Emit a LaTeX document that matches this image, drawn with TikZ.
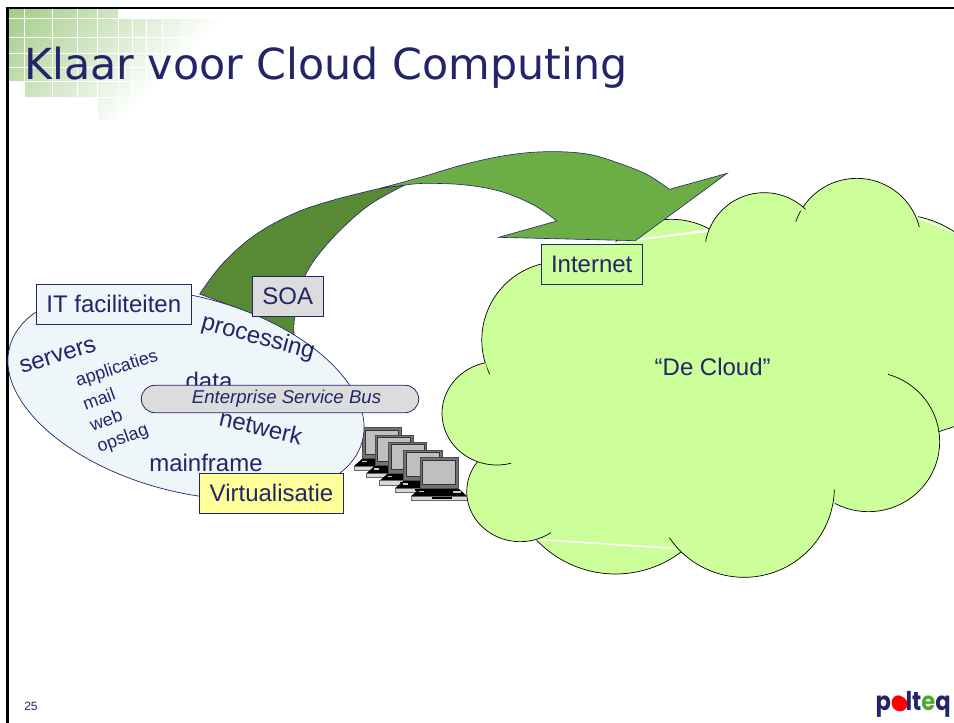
\documentclass[tikz,border=0pt]{standalone}
\usepackage{fontspec}
\usepackage{graphicx}
\setmainfont{Liberation Sans}
\newfontfamily\titlefont{DejaVu Sans}
\newfontfamily\logofont{Poppins}
\usetikzlibrary{shapes.geometric,shapes.misc}
\definecolor{navy}{HTML}{24246B}
\definecolor{tilegreen}{HTML}{A3CD89}
\definecolor{ice}{HTML}{EEF6FA}
\definecolor{cloudgreen}{HTML}{CCFF99}
\definecolor{lightarrow}{HTML}{6DAD46}
\definecolor{darkarrow}{HTML}{588A35}
\definecolor{boxgrey}{HTML}{DCDCDC}
\definecolor{boxyellow}{HTML}{FFFF99}
\pgfdeclareverticalshading{tilefade}{100bp}{color(0bp)=(white); color(52bp)=(white); color(85bp)=(tilegreen); color(100bp)=(tilegreen)}
\newcommand{\fsz}[1]{\fontsize{#1}{#1}\selectfont}
% centre x, centre y, radius x, radius y, start angle, end angle (clockwise on the page)
\newcommand{\cloudlobe}[6]{%
  \fill[cloudgreen] plot[domain=#5:#6,samples=40,smooth] ({#1+#3*cos(\x)},{#2+#4*sin(\x)});%
  \draw[lobe] plot[domain=#5:#6,samples=40,smooth] ({#1+#3*cos(\x)},{#2+#4*sin(\x)});}
\tikzset{
  label box/.style={draw=navy,line width=0.9pt,text=navy,font=\fsz{24},inner sep=0pt,minimum height=39.6pt},
  word/.style={text=navy,inner sep=0pt,font=\fsz{24}},
  small word/.style={text=navy,inner sep=0pt,font=\fsz{18}},
  lobe/.style={draw=black,line width=0.7pt},
  zoomfive/.style={shift={(430,170)},x=0.3342pt,y=-0.33333pt},
  zoomsix/.style={shift={(180,140)},x=0.35714pt,y=-0.33333pt},
  zoomthree/.style={shift={(340,410)},x=0.33333pt,y=-0.33333pt},
  laptop/.pic={
    \fill[black] (-26,115) -- (0,92) -- (115,92) -- (141,115) -- cycle;
    \fill[white!60!gray] (-2,100) rectangle (12,104);
    \fill[white!60!gray] (100,100) rectangle (122,106);
    \draw[fill=white!70!gray,draw=black!60,line width=0.6pt] (-26,115) rectangle (141,128);
    \draw[fill=black!55,draw=black!70,line width=0.5pt] (0,0) rectangle (115,92);
    \draw[fill=black!25,draw=black!80,line width=0.5pt] (8,7) rectangle (107,80);
    \fill[black] (35,118) rectangle (95,123);
  }
}
\begin{document}
\begin{tikzpicture}[x=1pt,y=-1pt]
\useasboundingbox (0,0) rectangle (954,723);
\begin{scope}
\clip (0,0) rectangle (954,723);
\fill[white] (0,0) rectangle (954,723);
% green tile background
\begin{scope}
\clip (8,9) rectangle (118,18) (8,18) rectangle (222,53) (8,53) rectangle (222,81) (25,81) rectangle (222,97) (97,97) rectangle (222,120);
\shade[shading=tilefade,shading angle=45] (8,9) rectangle (248,249);
\foreach \gx in {24.5,52,77,97,118,132,146,162,182,203} \draw[white,line width=0.8pt] (\gx,9) -- (\gx,120);
\foreach \gy in {18,37,53,67,81,97} \draw[white,line width=0.8pt] (8,\gy) -- (230,\gy);
\end{scope}
% slide frame
\draw[black,line width=2.4pt] (7.5,723) -- (7.5,8) -- (954,8);
\node[anchor=base west,inner sep=0pt,text=navy,font={\titlefont\fsz{42.8}}] (title) at (24,79) {Klaar voor Cloud Computing};
% laptops
\begin{scope}[zoomthree]
\pic at (68,53) {laptop};
\pic at (105,75) {laptop};
\pic at (145,97) {laptop};
\pic at (191,120) {laptop};
\pic at (240,143) {laptop};
\end{scope}
% cloud
\begin{scope}[zoomfive]
\filldraw[cloudgreen,line width=1.5pt,line join=round] (150,870) -- (170,585) -- (335,285) -- (555,222) -- (835,188) -- (1125,122) -- (1460,148) -- (1568,192) -- (1568,765) -- (1522,780) -- (1205,1005) -- (760,1132) -- (325,1104) -- cycle;
\cloudlobe{270}{965}{160}{150}{55}{218}
\cloudlobe{555}{887}{325}{325}{51}{136.5}
\cloudlobe{940}{952}{270}{270}{1.3}{146}
\cloudlobe{1312}{815}{213}{210}{-74}{118}
\draw[lobe] (1522,785) -- (1568,770);
\fill[cloudgreen] (1460,140) .. controls (1500,148) and (1540,165) .. (1568,185);
\draw[lobe] (1460,140) .. controls (1500,148) and (1540,165) .. (1568,185);
\cloudlobe{1277}{218}{193}{193}{-161}{-14}
\cloudlobe{1000}{246}{178}{178}{-170}{-46}
\cloudlobe{722}{388}{240}{240}{-134}{-61.5}
\cloudlobe{390}{510}{235}{235}{154}{270}
\cloudlobe{200}{730}{164}{155}{75}{258}
\end{scope}
% arrow
\begin{scope}[zoomsix]
\draw[fill=darkarrow,draw=navy,line width=0.6pt] plot[smooth,tension=0.6] coordinates {(55,462)(120,370)(210,285)(320,220)(430,180)(560,145)} -- (630,135) -- plot[smooth,tension=0.6] coordinates {(630,135)(530,195)(440,280)(370,370)(335,450)(320,540)(320,590)} -- (200,520) -- cycle;
\draw[fill=lightarrow,draw=navy,line width=0.6pt] plot[smooth,tension=0.6] coordinates {(560,145)(680,110)(800,72)(920,45)(1030,35)(1140,42)(1230,70)(1310,105)(1370,148)} -- (1532,100) -- (1275,302) -- (892,292) -- plot[smooth,tension=0.6] coordinates {(1055,243)(990,195)(900,155)(800,135)(690,130)(630,135)} -- cycle;
\end{scope}
% ellipse and words
\node[ellipse,draw=navy,line width=0.7pt,fill=ice,inner sep=0pt,minimum width=365pt,minimum height=195pt,rotate=-15] (facilities) at (186,394) {};
\node[word,rotate=-15] (processing) at (258,338) {processing};
\node[word,rotate=17] (servers) at (58,356) {servers};
\node[small word,rotate=18] (applicaties) at (117,369) {applicaties};
\node[small word,rotate=20] (mail) at (99,399) {mail};
\node[small word,rotate=20] (web) at (106,420) {web};
\node[small word,rotate=20] (opslag) at (123,439) {opslag};
\node[word] (data) at (209,381) {data};
\node[word,rotate=-13] (netwerk) at (261,427) {netwerk};
\node[word] (mainframe) at (206,463) {mainframe};
\node[draw=navy,line width=0.8pt,fill=boxgrey,rounded rectangle,inner sep=0pt,minimum width=277.4pt,minimum height=27.4pt,text=navy,font={\itshape\fsz{18.6}}] (esb) at (280,399) {\hspace*{13pt}\raisebox{-1.5pt}{Enterprise Service Bus}};
% boxes
\node[label box,fill=ice,minimum width=155.7pt] (it) at (113.8,304.2) {IT faciliteiten};
\node[label box,fill=boxgrey,minimum width=71pt] (soa) at (287.8,296.5) {SOA};
\node[label box,fill=cloudgreen,minimum width=101.3pt] (internet) at (591.7,264.2) {Internet};
\node[label box,fill=boxyellow,minimum width=144.4pt] (virt) at (271.5,493.2) {Virtualisatie};
\node[word] (cloudtext) at (712.7,367) {“De Cloud”};
\node[text=navy,inner sep=0pt,font=\fsz{12}] (page) at (31,706) {25};
% logo
\fill[red] (900,704) circle (7.4);
\node[anchor=north west,inner sep=0pt,text=navy,font={\logofont\bfseries\fsz{26}}] (logo) at (875.5,690.7) {\resizebox*{75pt}{26pt}{p{\color{red}o}lt{\color[HTML]{4EA72E}e}q}};
\end{scope}
\end{tikzpicture}
\end{document}
